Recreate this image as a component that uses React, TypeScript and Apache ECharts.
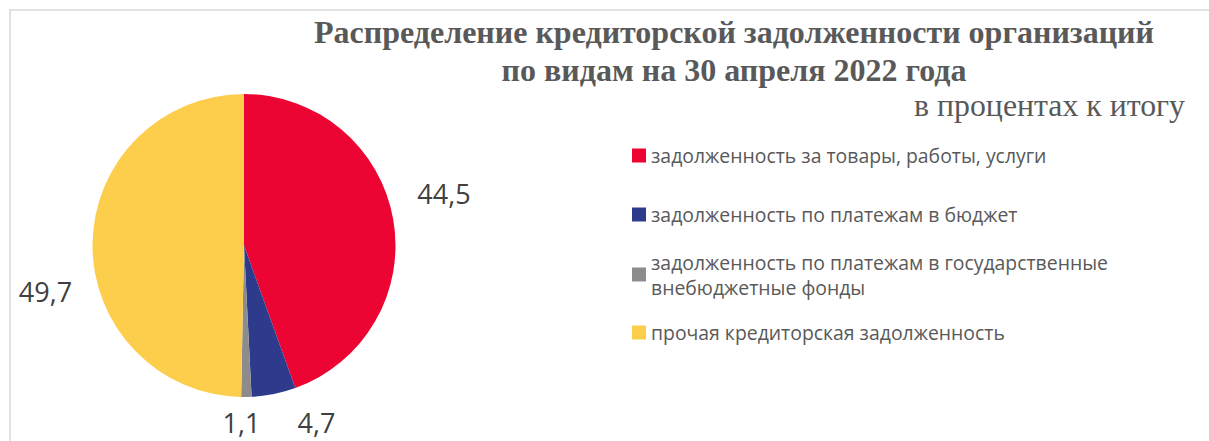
import React, { useEffect, useRef } from "react";
import * as echarts from "echarts";

const categories = [
  "задолженность за товары, работы, услуги",
  "задолженность по платежам в бюджет",
  "задолженность по платежам в государственные внебюджетные фонды",
  "прочая кредиторская задолженность",
];
const legendLines = [
  "задолженность за товары, работы, услуги",
  "задолженность по платежам в бюджет",
  "задолженность по платежам в государственные\nвнебюджетные фонды",
  "прочая кредиторская задолженность",
];
const values = [44.5, 4.7, 1.1, 49.7];
const colors = ["#EC0533", "#2E3A8C", "#8C8C8C", "#FDCD4C"];
const titleText = "Распределение кредиторской задолженности организаций\nпо видам на 30 апреля 2022 года";
const subtitleText = "в процентах к итогу";

// layout (positions of value labels and legend entries)
const labelPos = [
  [444, 193],
  [316.5, 422],
  [241.5, 422],
  [45.5, 291],
];
const legendTops = [143, 202, 237, 320];

export default function App() {
  const ref = useRef<HTMLDivElement>(null);
  useEffect(() => {
    if (!ref.current) return;
    const chart = echarts.init(ref.current, null, { renderer: "svg" });
    const legendFont = "Open Sans";
    const legends = categories.map((name, i) => ({
      orient: "vertical",
      left: 632,
      top: legendTops[i],
      padding: 0,
      icon: "rect",
      itemWidth: 14,
      itemHeight: 14,
      itemGap: 0,
      selectedMode: false,
      formatter: () => legendLines[i],
      textStyle: {
        fontFamily: legendFont,
        fontSize: 19.4,
        color: "#595959",
        lineHeight: 25,
        padding: i === 2 ? [25, 0, 0, 0] : 0,
      },
      data: [name],
    }));
    chart.setOption({
      animation: false,
      backgroundColor: "#ffffff",
      title: {
        text: titleText,
        left: 729,
        top: 8,
        textAlign: "center",
        textStyle: {
          fontFamily: "Liberation Serif",
          fontWeight: "bold",
          fontSize: 32,
          lineHeight: 38,
          color: "#595959",
        },
      },
      graphic: [
        {
          type: "rect",
          shape: { x: 10, y: 10, width: 1400, height: 600 },
          style: { fill: "none", stroke: "#D9D9D9", lineWidth: 1.5 },
          silent: true,
          z: -1,
        },
        {
          type: "text",
          x: 1185,
          y: 121,
          style: {
            text: subtitleText,
            fontFamily: "Liberation Serif",
            fontSize: 31.8,
            fill: "#595959",
            textAlign: "right",
            textVerticalAlign: "bottom",
          },
        },
      ],
      legend: legends,
      series: [
        {
          type: "pie",
          center: [244, 245.5],
          radius: 151.5,
          startAngle: 90,
          clockwise: true,
          label: {
            show: true,
            position: "outside",
            overflow: "none",
            formatter: (p: any) => String(p.value).replace(".", ","),
            fontFamily: legendFont,
            fontSize: 27,
            lineHeight: 26,
            color: "#404040",
          },
          labelLine: { show: false },
          labelLayout: (params: any) => ({
            x: labelPos[params.dataIndex][0],
            y: labelPos[params.dataIndex][1],
            align: "center",
            verticalAlign: "middle",
          }),
          emphasis: { disabled: true },
          data: categories.map((name, i) => ({
            name,
            value: values[i],
            itemStyle: { color: colors[i] },
          })),
        },
      ],
    });
    return () => chart.dispose();
  }, []);
  return (
    <div
      ref={ref}
      style={{ position: "fixed", left: 0, top: 0, width: 1209, height: 441 }}
    />
  );
}
